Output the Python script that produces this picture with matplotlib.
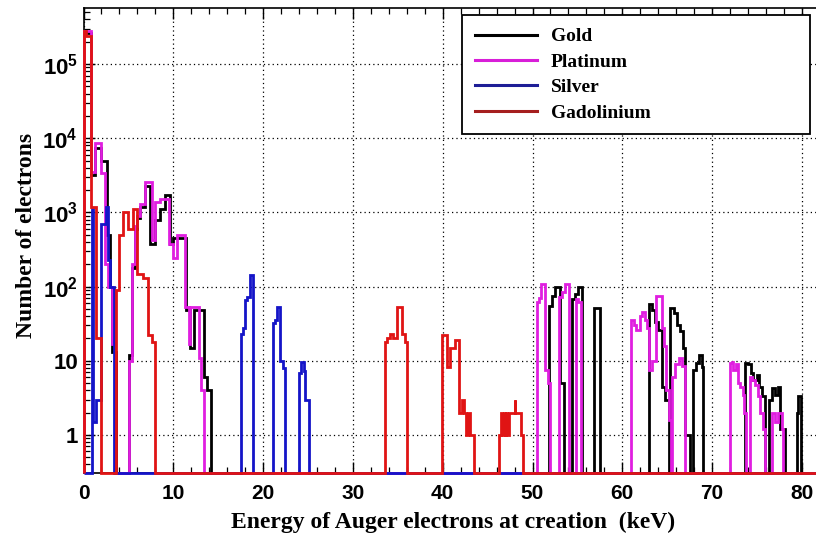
import numpy as np
import matplotlib.pyplot as plt
from matplotlib.lines import Line2D
from matplotlib.ticker import MultipleLocator, LogLocator, NullFormatter

# histogram steps: bin edges in keV, counts per bin (0 = empty bin)
# each row: as many counts as edges (last count is the empty gap up to next row)
gold_edges = [
    0, 0.8, 1.3, 1.9, 2.6, 2.9, 3.2, 3.6,
    5.1, 5.4, 5.7, 6.0, 6.3, 6.85, 7.4, 7.95, 8.5, 9.1, 9.6, 10.0, 11.4, 11.9, 12.3, 13.4, 13.8, 14.15,
    51.87, 52.17, 52.5, 53.05, 53.5,
    54.35, 54.75, 55.05, 55.5,
    56.9, 57.5,
    62.93, 63.28, 63.67, 64.02, 64.37, 64.77, 65.16,
    65.36, 65.71, 66.06, 66.45, 66.75, 67.0, 67.5,
    67.85, 68.24, 68.59, 68.84, 69.04,
    73.7, 74.05, 74.3, 74.6, 75.0, 75.2, 75.54, 75.9,
    76.3, 76.64, 77.04, 77.29, 77.58, 78.17,
    79.46, 79.6, 79.95, 81.6]
gold_counts = [
    2.6e5, 3200, 7500, 5000, 500, 100, 13, 0,
    12, 180, 600, 850, 1200, 2300, 380, 780, 1100, 1700, 380, 450, 48, 15, 48, 6, 4, 0,
    55, 75, 100, 5, 0,
    68, 80, 98, 0,
    52, 0,
    59, 48, 33, 26, 4.5, 3, 0,
    51, 44, 30, 25, 15, 1, 0,
    7.5, 9.3, 12, 8.3, 0,
    9.3, 9, 6.8, 5.5, 6.5, 4.5, 3.3, 0,
    3, 4.3, 3.5, 4.5, 1.2, 0,
    2, 3.3, 0]

platinum_edges = [
    0, 0.8, 1.3, 1.9, 2.4, 2.7, 3.2, 3.5,
    5.1, 5.4, 5.7, 6.0, 6.3, 6.85, 7.6, 7.95, 8.5, 9.55, 10.0, 10.4, 11.3, 11.7, 11.9, 12.9, 13.1, 13.4,
    50.49, 50.75, 50.93, 51.42, 51.77, 51.97,
    52.9, 53.27, 53.57, 54.02,
    54.87, 55.12, 55.43,
    60.94, 61.25, 61.58, 61.94, 62.22, 62.5, 62.72, 62.94, 63.3, 63.78, 64.41, 64.59, 64.89, 65.15, 65.4,
    65.55, 65.89, 66.26, 66.64, 66.95,
    71.94, 72.2, 72.38, 72.68, 72.83, 73.13, 73.43, 73.58, 73.8,
    74.17, 74.47, 74.8, 75.08, 75.36, 75.64, 75.91,
    76.66, 77.03, 77.36, 77.77, 77.95, 81.6]
platinum_counts = [
    2.8e5, 3500, 8500, 3400, 200, 100, 17, 0,
    10, 200, 650, 900, 1300, 2600, 430, 1400, 1500, 380, 240, 500, 53, 17, 53, 11, 4, 0,
    62, 70, 110, 7.5, 5, 0,
    72, 85, 108, 0,
    68, 62, 0,
    35, 30, 26, 40, 46, 35, 28, 7.5, 10, 75, 28, 16, 4, 1.6, 0,
    6, 9, 11, 8.5, 0,
    9.2, 9.5, 7.5, 9, 5, 4.5, 3.5, 2, 0,
    6, 5.5, 4.7, 3.3, 2, 1.2, 0,
    2, 1.5, 2, 1.2, 0]

silver_edges = [
    0, 0.95, 1.05, 1.4, 1.95, 2.45, 2.7, 3.0, 3.45,
    17.53, 17.75, 18.0, 18.26, 18.49, 18.93,
    21.05, 21.35, 21.54, 21.9, 22.2, 22.49,
    24.02, 24.24, 24.5, 24.69, 25.06, 81.6]
silver_counts = [
    0, 1100, 1.5, 3, 700, 1200, 230, 100, 0,
    23, 27.5, 65, 72, 142, 0,
    32, 36, 53, 10, 8, 0,
    6.8, 9.7, 7.3, 3, 0]

gadolinium_edges = [
    0, 0.3, 0.8, 1.4, 2.0,
    3.6, 4.0, 4.4, 5.0, 5.5, 5.95, 6.6, 7.2, 7.6, 8.0,
    33.52, 33.79, 34.15, 34.49, 34.9, 35.46, 35.82, 36.08,
    39.91, 40.47, 40.84, 41.39, 41.87, 42.17, 42.39, 42.62, 42.84, 43.06, 43.43,
    46.3, 46.5, 46.6, 46.8, 46.9, 47.1, 47.2, 47.4, 48.0, 48.1, 48.7, 48.9, 81.6]
gadolinium_counts = [
    2.8e5, 2.4e5, 1170, 20, 0,
    90, 500, 1000, 600, 1100, 150, 130, 22, 18, 0,
    18, 20, 23, 20, 53, 23, 18, 0,
    22, 8.3, 15, 19, 2, 3, 2, 1, 2, 1, 0,
    1, 2, 1, 2, 1, 2, 1, 2, 3, 2, 1, 0]

names = ['Gold', 'Platinum', 'Silver', 'Gadolinium']
colors = ['#000000', '#e01ee0', '#1414c8', '#e01414']
legend_colors = ['#000000', '#d81ed8', '#1e1e96', '#a51e1e']

ymin, ymax = 0.307, 5.7e5

plt.rcParams['mathtext.fontset'] = 'custom'
plt.rcParams['mathtext.rm'] = 'Liberation Sans:bold'
plt.rcParams['mathtext.default'] = 'rm'

fig = plt.figure(figsize=(8.16, 5.33), dpi=100)
ax = fig.add_axes([83.5 / 816, 60 / 533, (816 - 83.5) / 816, 465 / 533])

series = [(gold_edges, gold_counts), (platinum_edges, platinum_counts),
          (silver_edges, silver_counts), (gadolinium_edges, gadolinium_counts)]
for i, ((edges, counts), col) in enumerate(zip(series, colors)):
    c = np.array(counts, dtype=float)
    c[c <= 0] = ymin
    ax.stairs(c, edges, baseline=ymin, color=col, linewidth=2.0,
              clip_on=False, zorder=3 + 0.1 * i)

ax.set_yscale('log')
ax.set_xlim(0, (816 - 83.5) / 8.98)
ax.set_ylim(ymin, ymax)

ax.xaxis.set_major_locator(MultipleLocator(10))
ax.xaxis.set_minor_locator(MultipleLocator(2))
ax.set_yticks([1, 10, 1e2, 1e3, 1e4, 1e5],
              ['1', '10', r'$10^{2}$', r'$10^{3}$', r'$10^{4}$', r'$10^{5}$'])
ax.yaxis.set_minor_locator(LogLocator(base=10, subs=np.arange(2, 10)))
ax.yaxis.set_minor_formatter(NullFormatter())

ax.tick_params(which='both', direction='in', top=True, right=False, colors='black')
ax.tick_params(which='major', length=8, width=1.0)
ax.tick_params(which='minor', length=4.5, width=0.9)
ax.tick_params(axis='x', pad=8)
ax.tick_params(axis='y', pad=4)
for lab in ax.get_xticklabels():
    lab.set_fontfamily('Liberation Sans')
    lab.set_fontweight('bold')
    lab.set_fontsize(15)
for lab in ax.get_yticklabels():
    lab.set_fontfamily('Liberation Sans')
    lab.set_fontweight('bold')
    lab.set_fontsize(16)

ax.grid(True, which='major', color='black', linestyle=(0, (1, 2.5)), linewidth=0.9)
ax.set_axisbelow(True)
ax.spines['right'].set_visible(False)
for s in ['left', 'top', 'bottom']:
    ax.spines[s].set_linewidth(1.2)

ax.set_xlabel('Energy of Auger electrons at creation  (keV)', fontsize=17,
              family='Liberation Serif', fontweight='bold')
ax.xaxis.set_label_coords(0.504, -0.083)
ax.set_ylabel('Number of electrons', fontsize=17, family='Liberation Serif', fontweight='bold')
ax.yaxis.set_label_coords(-0.064, 0.51)

handles = [Line2D([], [], color=c, linewidth=2.2) for c in legend_colors]
leg = ax.legend(handles, names, loc='upper left', mode='expand',
                bbox_to_anchor=(462 / 816, 1 - 15 / 533 - 0.01, (810 - 462) / 816, 0.01),
                bbox_transform=fig.transFigure,
                prop={'family': 'Liberation Serif', 'weight': 'bold', 'size': 14},
                handlelength=3.2, handletextpad=0.7, labelspacing=0.4, borderpad=0.66,
                borderaxespad=0, fancybox=False, framealpha=1, edgecolor='black')
leg.get_frame().set_linewidth(1.3)
leg.set_zorder(5)

fig.savefig('out.png', dpi=100)
